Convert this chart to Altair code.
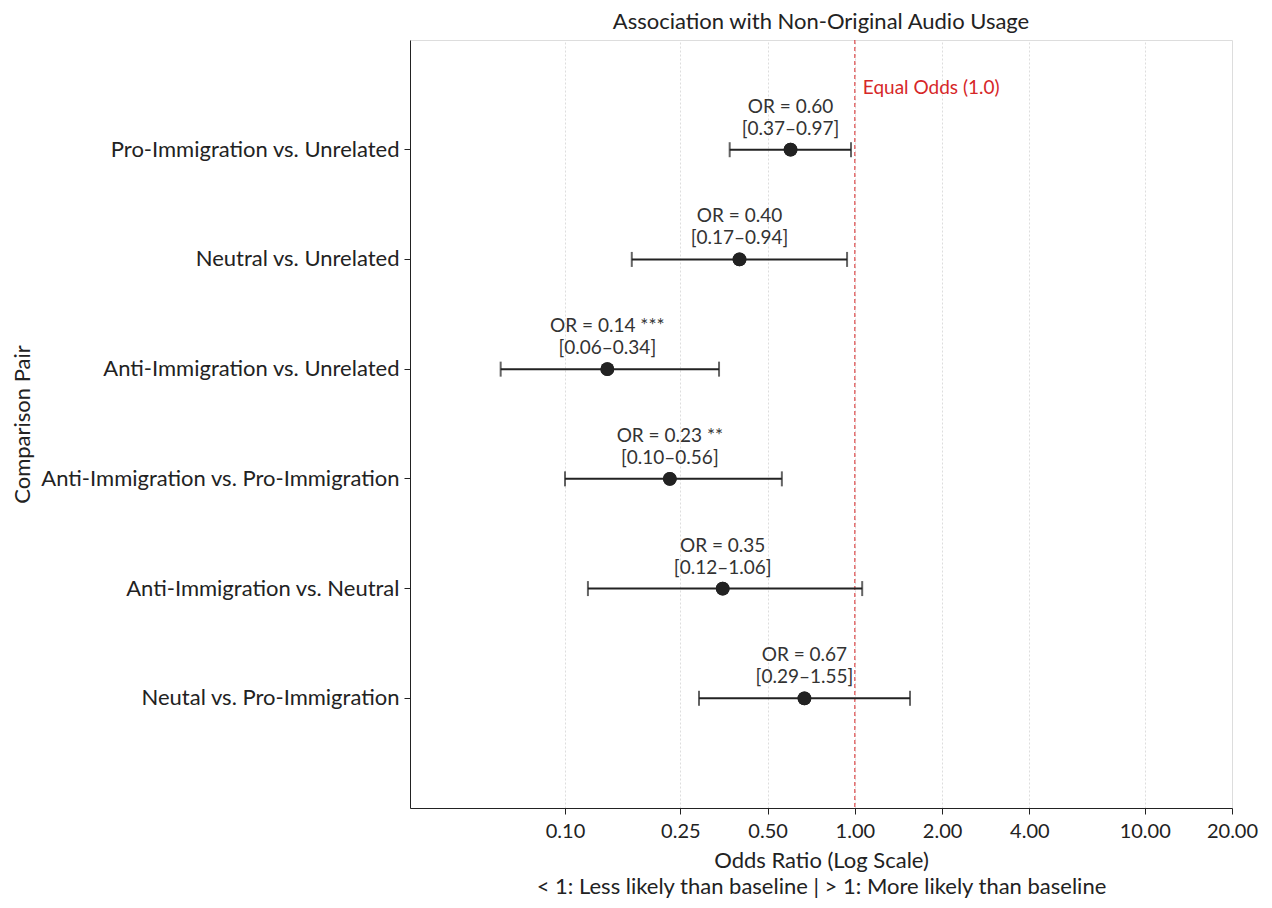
import altair as alt
import pandas as pd

pairs = [
    "Pro-Immigration vs. Unrelated",
    "Neutral vs. Unrelated",
    "Anti-Immigration vs. Unrelated",
    "Anti-Immigration vs. Pro-Immigration",
    "Anti-Immigration vs. Neutral",
    "Neutal vs. Pro-Immigration",
]
odds = [0.60, 0.40, 0.14, 0.23, 0.35, 0.67]
ci_low = [0.37, 0.17, 0.06, 0.10, 0.12, 0.29]
ci_high = [0.97, 0.94, 0.34, 0.56, 1.06, 1.55]
stars = ["", "", " ***", " **", "", ""]
x_ticks = [0.1, 0.25, 0.5, 1, 2, 4, 10, 20]

df = pd.DataFrame({
    "pair": pairs,
    "or": odds,
    "lo": ci_low,
    "hi": ci_high,
    "line1": [f"OR = {v:.2f}{s}" for v, s in zip(odds, stars)],
    "line2": [f"[{l:.2f}\u2013{h:.2f}]" for l, h in zip(ci_low, ci_high)],
})

FONT = "Lato"
DARK = "#222222"
RED = "#d62728"
W, H = 822, 768

xscale = alt.Scale(type="log", domain=[0.0292, 20], nice=False, clamp=True)
yscale = alt.Scale(padding=1)
ysort = pairs

x_enc = alt.X(
    "or:Q", scale=xscale,
    axis=alt.Axis(
        values=x_ticks, format=".2f",
        title=["Odds Ratio (Log Scale)",
               "< 1: Less likely than baseline | > 1: More likely than baseline"],
        grid=True, gridDash=[2, 2], gridColor="#dddddd",
        labelFontSize=20, titleFontSize=22, titleFontWeight="normal",
        titleLineHeight=26, titleBaseline="top", titleY=42, titleX=W / 2,
        labelPadding=7, labelFlush=False, labelOverlap=False,
        tickSize=6, tickColor=DARK, domainColor=DARK,
        labelColor=DARK, titleColor=DARK, labelFont=FONT, titleFont=FONT,
    ),
)
y_enc = alt.Y(
    "pair:N", sort=ysort, scale=yscale,
    axis=alt.Axis(
        title="Comparison Pair", labelFontSize=22, titleFontSize=22,
        titleFontWeight="normal", labelLimit=600, grid=False,
        tickSize=6, labelPadding=5,
        titleX=-388, titleY=H / 2, titleAngle=-90, titleBaseline="middle", titleAlign="center",
        tickColor=DARK, domainColor=DARK, labelColor=DARK, titleColor=DARK,
        labelFont=FONT, titleFont=FONT,
    ),
)

base = alt.Chart(df)

rules = base.mark_rule(color=DARK, strokeWidth=2).encode(
    x=alt.X("lo:Q", scale=xscale), x2="hi:Q", y=alt.Y("pair:N", sort=ysort, scale=yscale)
)
cap_lo = base.mark_tick(color=DARK, thickness=2, size=15).encode(
    x=alt.X("lo:Q", scale=xscale), y=alt.Y("pair:N", sort=ysort, scale=yscale)
)
cap_hi = base.mark_tick(color=DARK, thickness=2, size=15).encode(
    x=alt.X("hi:Q", scale=xscale), y=alt.Y("pair:N", sort=ysort, scale=yscale)
)
points = base.mark_circle(color=DARK, opacity=1, size=190).encode(x=x_enc, y=y_enc)
text1 = base.mark_text(font=FONT, fontSize=19, color="#333333", dy=-43, baseline="middle").encode(
    x=alt.X("or:Q", scale=xscale), y=alt.Y("pair:N", sort=ysort, scale=yscale), text="line1:N"
)
text2 = base.mark_text(font=FONT, fontSize=19, color="#333333", dy=-21, baseline="middle").encode(
    x=alt.X("or:Q", scale=xscale), y=alt.Y("pair:N", sort=ysort, scale=yscale), text="line2:N"
)

ref_df = pd.DataFrame({"x": [1.0], "label": ["Equal Odds (1.0)"]})
ref_rule = alt.Chart(ref_df).mark_rule(color=RED, strokeDash=[4, 3], strokeWidth=1).encode(
    x=alt.X("x:Q", scale=xscale)
)
ref_text = alt.Chart(ref_df).mark_text(
    font=FONT, fontSize=19, color=RED, align="left", baseline="middle", dx=8
).encode(x=alt.X("x:Q", scale=xscale), y=alt.value(48), text="label:N")

chart = alt.layer(points, ref_rule, rules, cap_lo, cap_hi, points, text1, text2, ref_text).properties(
    width=W, height=H,
    title=alt.TitleParams("Association with Non-Original Audio Usage", font=FONT, fontSize=22,
                          fontWeight="normal", color=DARK, offset=6),
    autosize=alt.AutoSizeParams(type="none"),
    padding={"left": 402, "top": 32, "right": 30, "bottom": 90},
).configure_view(stroke=DARK, strokeWidth=1).configure(font=FONT)

chart.save("out.html", embed_options={"renderer": "svg", "actions": False})
